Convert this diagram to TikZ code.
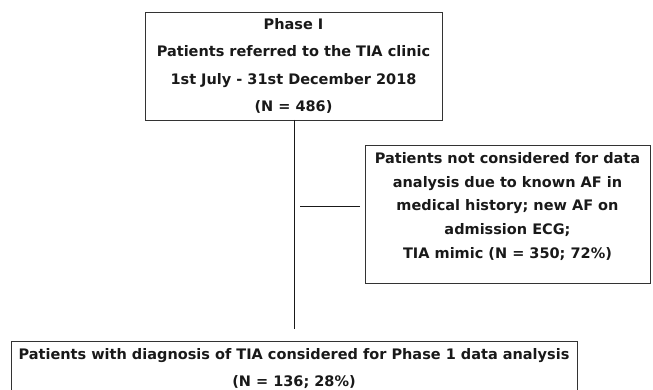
\documentclass[tikz,border=0pt]{standalone}
\usepackage{fontspec}
\setmainfont{DejaVu Sans}
\begin{document}
\begin{tikzpicture}[x=1pt,y=-1pt,
  box/.style={draw=black!80,line width=1.4pt,inner sep=0pt,anchor=north west},
  txt/.style={align=center,text=black!90,font=\bfseries\fontsize{14.5}{27.3}\selectfont,inner sep=0pt},
  conn/.style={draw=black!90,line width=1pt}]
\useasboundingbox (0,0) rectangle (653,390);
\clip (0,0) rectangle (653,390);
% top box
\node[box,minimum width=297pt,minimum height=108pt] (top) at (145,12) {};
\node[txt] (toptxt) at (293.5,66) {Phase I\\Patients referred to the TIA clinic\\1st July - 31st December 2018\\(N = 486)};
% side box
\node[box,minimum width=285pt,minimum height=138pt] (side) at (365,145) {};
\node[txt,font=\bfseries\fontsize{14.5}{23.75}\selectfont] (sidetxt) at (507.5,206.5) {Patients not considered for data\\analysis due to known AF in\\medical history; new AF on\\admission ECG;\\TIA mimic (N = 350; 72\%)};
% bottom box
\node[box,minimum width=566pt,minimum height=60pt] (bot) at (11,341) {};
\node[txt,font=\bfseries\fontsize{14.5}{26.7}\selectfont] (bottxt) at (294,368.3) {Patients with diagnosis of TIA considered for Phase 1 data analysis\\(N = 136; 28\%)};
% connectors
\coordinate (vtop) at (294,120);
\coordinate (vend) at (294,329);
\coordinate (hs) at (300,207);
\coordinate (he) at (360,207);
\draw[conn] (vtop) -- (vend);
\draw[conn] (hs) -- (he);
\end{tikzpicture}
\end{document}
